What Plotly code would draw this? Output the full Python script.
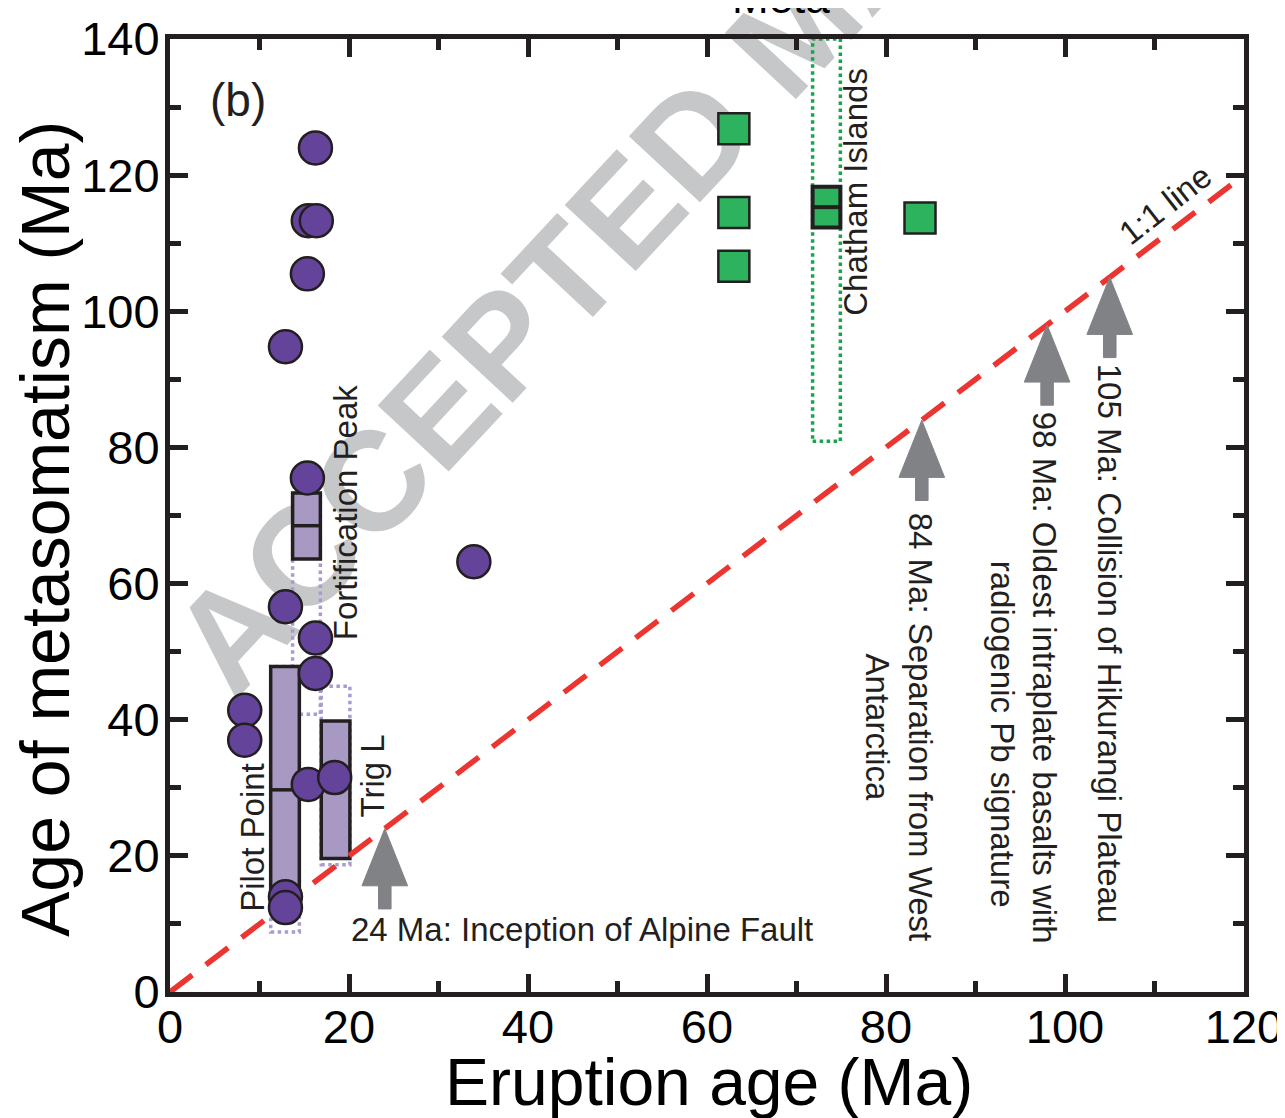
import plotly.graph_objects as go

# ---------------- data ----------------
# Intraplate basalt samples (purple circles): eruption age vs metasomatism age
circ_x = [16.25, 15.45, 16.35, 15.35, 12.9, 15.35, 33.95, 12.9, 16.25, 16.25, 8.35, 8.35, 15.45, 18.4, 12.9, 12.9]
circ_y = [124.0, 113.3, 113.3, 105.5, 94.8, 75.5, 63.2, 56.6, 52.0, 46.8, 41.4, 37.0, 30.5, 31.5, 14.0, 12.4]

# Chatham Islands samples (green squares)
sq_x = [63.0, 63.0, 63.0, 83.8]
sq_y = [126.8, 114.5, 106.6, 113.7]

# Localities: solid box (model age range) and dotted range
box_names = ["Pilot Point", "Fortification Peak", "Trig L", "Chatham Islands"]
box_x0 = [11.25, 13.7, 16.9, 71.8]
box_x1 = [14.45, 16.8, 20.1, 74.9]
box_y0 = [12.6, 63.6, 19.6, 112.3]
box_y1 = [47.8, 73.3, 39.8, 118.3]
box_med = [29.7, 68.5, None, 115.3]
range_y0 = [8.8, 40.8, 18.7, 80.9]
range_y1 = [47.8, 73.3, 44.9, 140.0]
box_fill = ["#a899c2", "#a899c2", "#a899c2", "#2db35e"]
range_col = ["#a99bd0", "#a99bd0", "#a99bd0", "#1aa34a"]

# 1:1 line
line_x = [0, 120]
line_y = [0, 120]

# Tectonic events (Ma)
event_ages = [24, 84, 98, 105]

x_ticks = [0, 20, 40, 60, 80, 100, 120]
y_ticks = [0, 20, 40, 60, 80, 100, 120, 140]

FONT = "Liberation Sans, Arial, Helvetica, sans-serif"
INK = "#231f20"

fig = go.Figure()

# watermark drawn below traces via shape label
fig.add_shape(type="line", xref="paper", yref="paper",
              x0=0.5714, y0=1.025, x1=0.5774, y1=1.019,
              line=dict(color="rgba(0,0,0,0)", width=1), layer="below",
              label=dict(text="ACCEPTED MANUSCRIPT", textangle=-47,
                         textposition="middle", xanchor="center", yanchor="middle",
                         font=dict(family=FONT, size=141, color="#c6c7c9", weight="bold")))

# dotted ranges and solid boxes
for i in range(len(box_names)):
    fig.add_shape(type="rect", x0=box_x0[i], x1=box_x1[i], y0=range_y0[i], y1=range_y1[i],
                  line=dict(color=range_col[i], width=3.5, dash="dot"), layer="below")
for i in range(len(box_names)):
    lw = 4 if i == 3 else 3.5
    fig.add_shape(type="rect", x0=box_x0[i], x1=box_x1[i], y0=box_y0[i], y1=box_y1[i],
                  line=dict(color=INK, width=lw), fillcolor=box_fill[i], layer="below")
    if box_med[i] is not None:
        fig.add_shape(type="line", x0=box_x0[i], x1=box_x1[i], y0=box_med[i], y1=box_med[i],
                      line=dict(color=INK, width=lw), layer="below")

# 1:1 line
fig.add_trace(go.Scatter(x=line_x, y=line_y, mode="lines",
                         line=dict(color="#ec3530", width=5.5, dash="28px,17px"),
                         showlegend=False, hoverinfo="skip"))

# samples
fig.add_trace(go.Scatter(x=circ_x, y=circ_y, mode="markers",
                         marker=dict(symbol="circle", size=33, color="#63449a",
                                     line=dict(color=INK, width=2.5)),
                         showlegend=False))
fig.add_trace(go.Scatter(x=sq_x, y=sq_y, mode="markers",
                         marker=dict(symbol="square", size=31, color="#2db35e",
                                     line=dict(color=INK, width=2.5)),
                         showlegend=False))

# arrows at events (tip on the 1:1 line)
hw, sw, hl, L = 2.55, 0.7, 8.4, 11.8
for e in event_ages:
    path = (f"M {e-sw},{e-L} L {e-sw},{e-hl} L {e-hw},{e-hl} L {e},{e} "
            f"L {e+hw},{e-hl} L {e+sw},{e-hl} L {e+sw},{e-L} Z")
    fig.add_shape(type="path", path=path, fillcolor="#808285",
                  line=dict(color="#808285", width=1), layer="above")

ann_font = dict(family=FONT, size=33, color=INK)
annotations = [
    dict(text="(b)", x=7.6, y=131.0, textangle=0, font=dict(family=FONT, size=46, color=INK)),
    dict(text="Pilot Point", x=9.2, y=22.7, textangle=-90),
    dict(text="Fortification Peak", x=19.6, y=70.4, textangle=-90),
    dict(text="Trig L", x=22.6, y=31.7, textangle=-90),
    dict(text="Chatham Islands", x=76.6, y=117.5, textangle=-90),
    dict(text="24 Ma: Inception of Alpine Fault", x=20.0, y=9.2, textangle=0, xanchor="left"),
    dict(text="84 Ma: Separation from West<br>Antarctica", x=81.4, y=38.9, textangle=90),
    dict(text="98 Ma: Oldest intraplate basalts with", x=97.7, y=46.1, textangle=90),
    dict(text="radiogenic Pb signature", x=93.1, y=37.9, textangle=90),
    dict(text="105 Ma: Collision of Hikurangi Plateau", x=105.0, y=51.2, textangle=90),
    dict(text="1:1 line", x=111.2, y=115.7, textangle=-38),
]
for a in annotations:
    fig.add_annotation(text=a["text"], x=a["x"], y=a["y"], xref="x", yref="y",
                       textangle=a["textangle"], showarrow=False,
                       xanchor=a.get("xanchor", "center"), yanchor="middle",
                       font=a.get("font", ann_font))

# axis titles (placed as paper annotations for exact positioning)
fig.add_annotation(text="Eruption age (Ma)", xref="paper", yref="paper", x=0.5023, y=-0.0945,
                   xanchor="center", yanchor="middle", showarrow=False,
                   font=dict(family=FONT, size=66, color="black"))
fig.add_annotation(text="Age of metasomatism (Ma)", xref="paper", yref="paper", x=-0.1164, y=0.4858,
                   xanchor="center", yanchor="middle", showarrow=False, textangle=-90,
                   font=dict(family=FONT, size=68, color="black"))

# clipped title fragment at top
fig.add_annotation(text="Meta", xref="paper", yref="paper", x=0.5685, y=1.0157,
                   xanchor="center", yanchor="bottom", showarrow=False,
                   font=dict(family=FONT, size=44, color="black"))

axis_common = dict(
    showline=True, linewidth=5, linecolor=INK, mirror="allticks",
    ticks="inside", ticklen=18, tickwidth=5, tickcolor=INK,
    showgrid=False, zeroline=False, automargin=False,
    tickfont=dict(family=FONT, size=47, color="black"),
    minor=dict(dtick=10, ticks="inside", ticklen=11, tickwidth=5, tickcolor=INK, showgrid=False),
)

fig.update_layout(
    width=1285, height=1118,
    margin=dict(l=162, r=49, t=31, b=134),
    paper_bgcolor="white", plot_bgcolor="white",
    showlegend=False,
    xaxis=dict(range=[0, 120], tickvals=x_ticks, ticktext=[str(v) for v in x_ticks],
               ticklabelstandoff=-10, **axis_common),
    yaxis=dict(range=[0, 140], tickvals=y_ticks, ticktext=[str(v) for v in y_ticks],
               ticklabelstandoff=-4, **axis_common),
)

fig.write_html("out.html")
